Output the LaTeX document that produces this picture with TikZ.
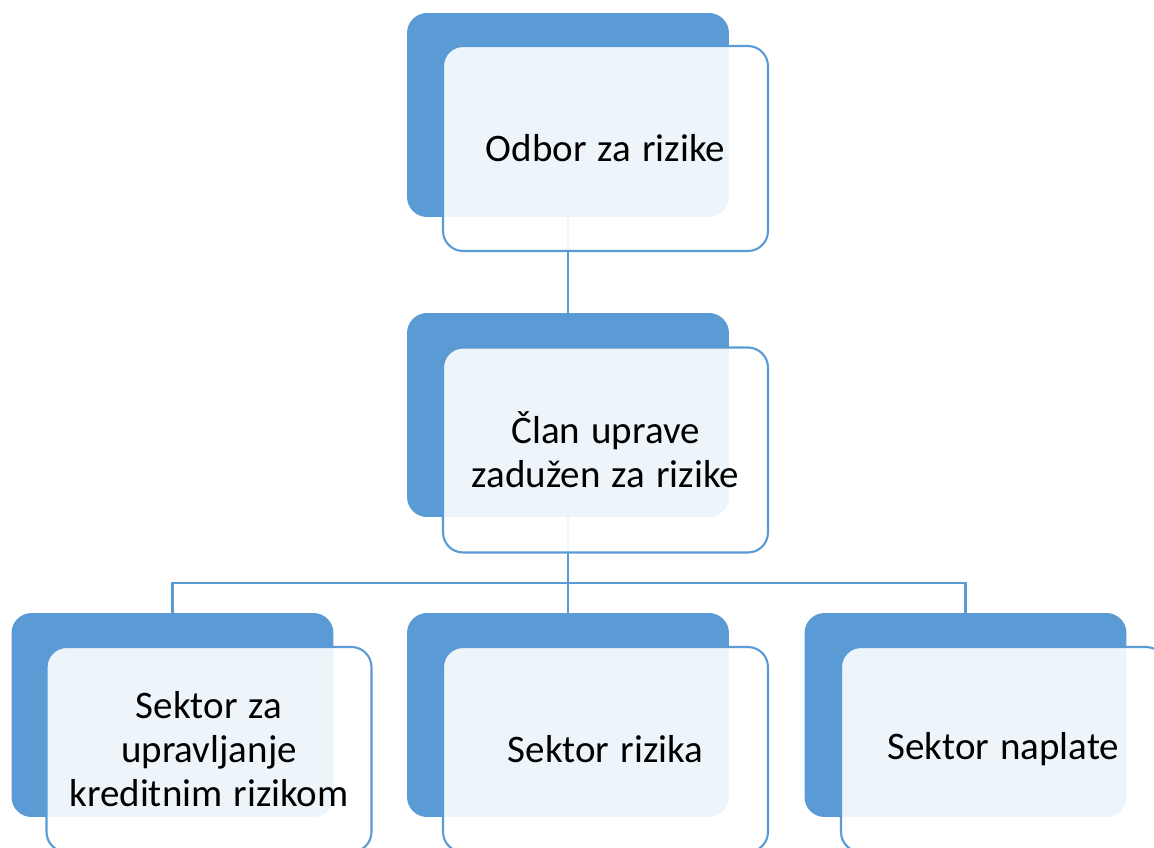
\documentclass[tikz,border=0pt]{standalone}
\usepackage{fontspec}
\setmainfont[WordSpace={1.25,1,1}]{Carlito}
\definecolor{accent}{HTML}{5B9BD5}
\tikzset{
  backbox/.style={draw=none, fill=accent, rounded corners=0.4cm,
    minimum width=6.44cm, minimum height=4.08cm, inner sep=0pt},
  frontbox/.style={draw=accent, line width=1.2pt, fill=white, fill opacity=0.9,
    text opacity=1, rounded corners=0.4cm, minimum width=6.5cm,
    minimum height=4.1cm, inner sep=0pt, align=center,
    font=\fontsize{22.2}{25}\selectfont},
  link/.style={draw=accent, line width=1.3pt}
}
\begin{document}
\begin{tikzpicture}[x=0.02cm, y=-0.02cm]
	\clip (0,0) rectangle (1154,848);
	\fill[white] (0,0) rectangle (1154,848);
	% back boxes
	\node[backbox] (odborBack) at (568,115) {};
	\node[backbox] (clanBack) at (568,415) {};
	\node[backbox] (kreditBack) at (172.5,715) {};
	\node[backbox] (rizikaBack) at (568,715) {};
	\node[backbox] (naplateBack) at (965.5,715) {};
	% connectors
	\draw[link] (odborBack.south) -- (clanBack.north);
	\path (clanBack.south) -- (rizikaBack.north) coordinate[pos=0.69] (split);
	\draw[link] (clanBack.south) -- (rizikaBack.north);
	\draw[link] (kreditBack.north) |- (split) -| (naplateBack.north);
	% front boxes
	\node[frontbox] (odbor) at (605.5,148.5) {Odbor za rizike};
	\node[frontbox] (clan) at (605.5,450) {Član uprave\\zadužen za rizike};
	\node[frontbox] (kredit) at (209,749.5) {Sektor za\\upravljanje\\kreditnim rizikom};
	\node[frontbox] (rizika) at (605.5,749.5) {Sektor rizika};
	\node[frontbox] (naplate) at (1003.5,749.5) {Sektor naplate};
\end{tikzpicture}
\end{document}
